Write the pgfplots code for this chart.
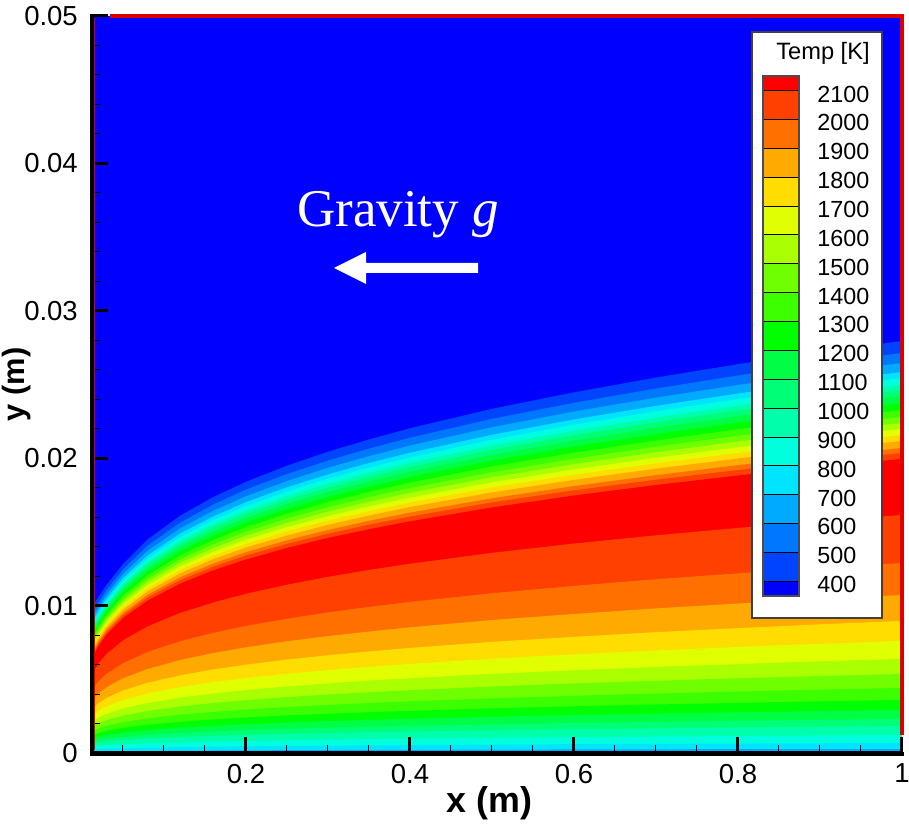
\documentclass[border=0pt]{standalone}
\usepackage{fontspec}
\setmainfont{Liberation Sans}
\newfontfamily\timesf{Liberation Serif}
\usepackage{pgfplots}
\usepackage{pgfplotstable}
\pgfplotsset{compat=1.18}
\definecolor{c2100}{HTML}{FF0000}\definecolor{c2000}{HTML}{FF4000}\definecolor{c1900}{HTML}{FF7000}
\definecolor{c1800}{HTML}{FFAA00}\definecolor{c1700}{HTML}{FFDD00}\definecolor{c1600}{HTML}{E0FF00}
\definecolor{c1500}{HTML}{AAFF00}\definecolor{c1400}{HTML}{70FF00}\definecolor{c1300}{HTML}{3CFF00}
\definecolor{c1200}{HTML}{00FF00}\definecolor{c1100}{HTML}{00FF44}\definecolor{c1000}{HTML}{00FF77}
\definecolor{c900}{HTML}{00FFAA}\definecolor{c800}{HTML}{00FFDD}\definecolor{c700}{HTML}{00E5FF}
\definecolor{c600}{HTML}{00AAFF}\definecolor{c500}{HTML}{0077FF}\definecolor{c400}{HTML}{0044FF}
\definecolor{c300}{HTML}{0000FF}
\definecolor{wallred}{HTML}{DD0000}
% Contour heights in mm: U = upper side of the flame, D = lower side, level in K
\pgfplotstableread{
lev 0.012 0.02 0.03 0.05 0.08 0.12 0.16 0.2 0.25 0.3 0.35 0.4 0.5 0.6 0.7 0.8 0.9 1.0
U400 9.90 10.60 11.40 12.82 14.49 16.11 17.36 18.40 19.49 20.44 21.27 22.03 23.35 24.47 25.47 26.38 27.21 27.95
U500 9.50 10.20 11.05 12.45 14.07 15.64 16.85 17.87 18.93 19.84 20.65 21.39 22.67 23.76 24.73 25.61 26.42 27.14
U600 9.20 9.90 10.75 12.14 13.72 15.25 16.43 17.42 18.45 19.35 20.14 20.86 22.10 23.17 24.11 24.97 25.76 26.46
U700 8.90 9.65 10.50 11.86 13.40 14.90 16.05 17.02 18.03 18.90 19.67 20.37 21.59 22.63 23.55 24.39 25.16 25.85
U800 8.70 9.45 10.30 11.67 13.19 14.66 15.80 16.75 17.74 18.60 19.36 20.05 21.25 22.27 23.18 24.01 24.76 25.44
U900 8.50 9.25 10.10 11.46 12.94 14.39 15.51 16.44 17.41 18.26 19.00 19.68 20.86 21.86 22.75 23.56 24.31 24.97
U1000 8.30 9.10 9.95 11.30 12.77 14.20 15.30 16.22 17.18 18.01 18.74 19.41 20.57 21.56 22.44 23.24 23.97 24.63
U1100 8.10 8.95 9.80 11.11 12.56 13.96 15.04 15.95 16.89 17.71 18.43 19.09 20.23 21.20 22.07 22.86 23.58 24.22
U1200 7.90 8.75 9.60 10.90 12.31 13.69 14.75 15.64 16.56 17.37 18.07 18.72 19.84 20.79 21.64 22.41 23.12 23.75
U1300 7.70 8.55 9.40 10.68 12.06 13.41 14.45 15.32 16.23 17.02 17.71 18.34 19.44 20.37 21.20 21.96 22.65 23.27
U1400 7.50 8.35 9.20 10.46 11.82 13.14 14.16 15.01 15.90 16.67 17.35 17.97 19.04 19.96 20.78 21.52 22.19 22.80
U1500 7.30 8.20 9.05 10.27 11.61 12.91 13.90 14.74 15.61 16.37 17.04 17.65 18.70 19.60 20.40 21.13 21.79 22.39
U1600 7.15 8.05 8.88 10.08 11.39 12.67 13.65 14.47 15.33 16.07 16.73 17.32 18.36 19.24 20.03 20.74 21.40 21.98
U1700 7.00 7.88 8.70 9.90 11.18 12.43 13.39 14.20 15.04 15.77 16.41 17.00 18.02 18.88 19.65 20.36 21.00 21.57
U1800 6.85 7.72 8.53 9.71 10.97 12.20 13.15 13.94 14.76 15.48 16.11 16.69 17.68 18.53 19.29 19.98 20.61 21.17
U1900 6.70 7.55 8.35 9.49 10.73 11.93 12.85 13.62 14.43 15.13 15.75 16.31 17.28 18.11 18.85 19.53 20.14 20.69
U2000 6.55 7.42 8.20 9.34 10.55 11.73 12.64 13.40 14.19 14.88 15.49 16.04 17.00 17.82 18.54 19.20 19.81 20.35
U2100 6.40 7.25 8.03 9.15 10.34 11.50 12.39 13.13 13.91 14.59 15.18 15.72 16.66 17.47 18.18 18.83 19.42 19.95
D2100 5.34 6.07 6.72 7.64 8.59 9.51 10.21 10.80 11.42 11.95 12.42 12.84 13.58 14.21 14.77 15.27 15.73 16.15
D2000 4.27 4.85 5.36 6.09 6.85 7.59 8.15 8.62 9.11 9.54 9.91 10.25 10.84 11.34 11.79 12.19 12.56 12.89
D1900 3.55 4.03 4.46 5.07 5.70 6.31 6.78 7.17 7.58 7.93 8.24 8.53 9.02 9.43 9.81 10.14 10.44 10.72
D1800 2.96 3.37 3.73 4.24 4.76 5.27 5.67 5.99 6.34 6.63 6.89 7.13 7.54 7.88 8.20 8.47 8.73 8.96
D1700 2.51 2.86 3.16 3.59 4.04 4.47 4.81 5.08 5.37 5.62 5.85 6.04 6.39 6.69 6.95 7.19 7.40 7.60
D1600 2.11 2.40 2.65 3.02 3.39 3.76 4.04 4.27 4.51 4.72 4.91 5.07 5.37 5.61 5.84 6.03 6.22 6.38
D1500 1.77 2.02 2.23 2.53 2.85 3.15 3.39 3.59 3.79 3.97 4.12 4.26 4.51 4.72 4.90 5.07 5.22 5.36
D1400 1.46 1.66 1.84 2.09 2.35 2.60 2.79 2.95 3.12 3.26 3.39 3.51 3.71 3.88 4.03 4.17 4.30 4.41
D1300 1.19 1.35 1.50 1.70 1.91 2.12 2.28 2.41 2.55 2.66 2.77 2.86 3.03 3.17 3.29 3.40 3.51 3.60
D1200 0.97 1.10 1.21 1.38 1.55 1.72 1.85 1.95 2.06 2.16 2.25 2.32 2.46 2.57 2.67 2.76 2.84 2.92
D1100 0.76 0.87 0.96 1.09 1.23 1.36 1.46 1.55 1.63 1.71 1.78 1.84 1.94 2.03 2.11 2.18 2.25 2.31
D1000 0.61 0.69 0.76 0.87 0.97 1.08 1.16 1.22 1.29 1.35 1.41 1.46 1.54 1.61 1.67 1.73 1.78 1.83
D900 0.40 0.46 0.51 0.58 0.65 0.72 0.77 0.82 0.86 0.90 0.94 0.97 1.03 1.07 1.12 1.15 1.19 1.22
D800 0.23 0.26 0.28 0.32 0.36 0.40 0.43 0.45 0.48 0.50 0.52 0.54 0.57 0.60 0.62 0.64 0.66 0.68
D700 0.09 0.10 0.11 0.13 0.14 0.16 0.17 0.18 0.19 0.20 0.21 0.21 0.23 0.24 0.25 0.26 0.26 0.27
}\rawcontours
\pgfplotstabletranspose[colnames from=lev,input colnames to=x]\contours\rawcontours
\newcommand\band[2]{\addplot[draw=none,fill=#2] table[x=x,y=#1]{\contours} \closedcycle;}
\begin{document}
\begin{tikzpicture}[x=0.6pt,y=-0.6pt]
\useasboundingbox (0,0) rectangle (909,826);
\begin{axis}[
  at={(55.2pt,-451.8pt)},anchor=south west,
  scale only axis,width=486pt,height=442.2pt,
  xmin=0.0122,xmax=1,ymin=0,ymax=0.05,
  y filter/.expression={y/1000},
  axis background/.style={fill=c300},
  axis lines=left,
  axis line style={-,line width=2.4pt,black},
  axis on top,
  xtick={0.2,0.4,0.6,0.8,1},
  xticklabels={0.2,0.4,0.6,0.8,1},
  ytick={0,0.01,0.02,0.03,0.04,0.05},
  yticklabels={0,0.01,0.02,0.03,0.04,0.05},
  minor xtick={0.05,0.1,0.15,0.25,0.3,0.35,0.45,0.5,0.55,0.65,0.7,0.75,0.85,0.9,0.95},
  minor ytick={0.002,0.004,0.006,0.008,0.012,0.014,0.016,0.018,0.022,0.024,0.026,0.028,0.032,0.034,0.036,0.038,0.042,0.044,0.046,0.048},
  tick align=inside,
  major tick length=9.6pt,minor tick length=4.8pt,
  major tick style={line width=1.8pt,black},
  minor tick style={line width=0.6pt,black},
  scaled y ticks=false,
  tick label style={font=\fontsize{16.5}{18}\selectfont},
  xticklabel style={yshift=-3pt},
  yticklabel style={xshift=-5pt},
  xlabel={x (m)},ylabel={y (m)},
  every axis x label/.style={at={(rel axis cs:0.491,0)},yshift=-30pt,anchor=center,font=\fontsize{21.5}{23}\selectfont\bfseries},
  every axis y label/.style={at={(rel axis cs:0,0.5)},xshift=-45pt,anchor=center,rotate=90,font=\fontsize{18.5}{20}\selectfont\bfseries},
]
\band{U400}{c400}\band{U500}{c500}\band{U600}{c600}\band{U700}{c700}\band{U800}{c800}\band{U900}{c900}
\band{U1000}{c1000}\band{U1100}{c1100}\band{U1200}{c1200}\band{U1300}{c1300}\band{U1400}{c1400}\band{U1500}{c1500}
\band{U1600}{c1600}\band{U1700}{c1700}\band{U1800}{c1800}\band{U1900}{c1900}\band{U2000}{c2000}\band{U2100}{c2100}
\band{D2100}{c2000}\band{D2000}{c1900}\band{D1900}{c1800}\band{D1800}{c1700}\band{D1700}{c1600}\band{D1600}{c1500}
\band{D1500}{c1400}\band{D1400}{c1300}\band{D1300}{c1200}\band{D1200}{c1100}\band{D1100}{c1000}\band{D1000}{c900}
\band{D900}{c800}\band{D800}{c700}\band{D700}{c600}
\end{axis}
% red wall lines, then the black frame lines over them
\draw[wallred,line width=1.9pt] (110,16) -- (902,16) -- (902,735);
\draw[wallred,line width=0.4pt] (94.3,18) -- (94.3,750);
\draw[black,line width=2.4pt] (91.5,14) -- (91.5,754) -- (904,754);
% gravity annotation
\node[text=white,font=\timesf\fontsize{31.8}{33}\selectfont,anchor=base] at (398,227) {Gravity \textit{g}};
\fill[white] (478,263) -- (366,263) -- (366,252) -- (334,268) -- (366,284) -- (366,273) -- (478,273) -- cycle;
% legend
\fill[white] (752,32) rectangle (882,618);
\draw[black!75,line width=0.7pt] (752,32) rectangle (882,618);
\node[anchor=east,inner sep=0pt,font=\fontsize{14.2}{15}\selectfont] at (870,53) {Temp [K]};
\fill[c2100] (763,76) rectangle (799,90.7);
\pgfmathsetmacro{\st}{28.86}
\foreach \i/\c/\l in {0/c2000/2100,1/c1900/2000,2/c1800/1900,3/c1700/1800,4/c1600/1700,5/c1500/1600,6/c1400/1500,7/c1300/1400,8/c1200/1300,9/c1100/1200,10/c1000/1100,11/c900/1000,12/c800/900,13/c700/800,14/c600/700,15/c500/600,16/c400/500}{
  \fill[\c] (763,{90.7+\i*\st}) rectangle (799,{90.7+(\i+1)*\st});
  \node[anchor=west,inner sep=0pt,font=\fontsize{14}{15}\selectfont] at (817,{94+\i*\st}) {\l};
}
\fill[c300] (763,581.3) rectangle (799,596);
\node[anchor=west,inner sep=0pt,font=\fontsize{14}{15}\selectfont] at (817,584) {400};
\foreach \i in {0,...,17}{\draw[black,line width=0.6pt] (763,{90.7+\i*\st}) -- (799,{90.7+\i*\st});}
\draw[black!70,line width=0.7pt] (763,76) rectangle (799,596);
\end{tikzpicture}
\end{document}
